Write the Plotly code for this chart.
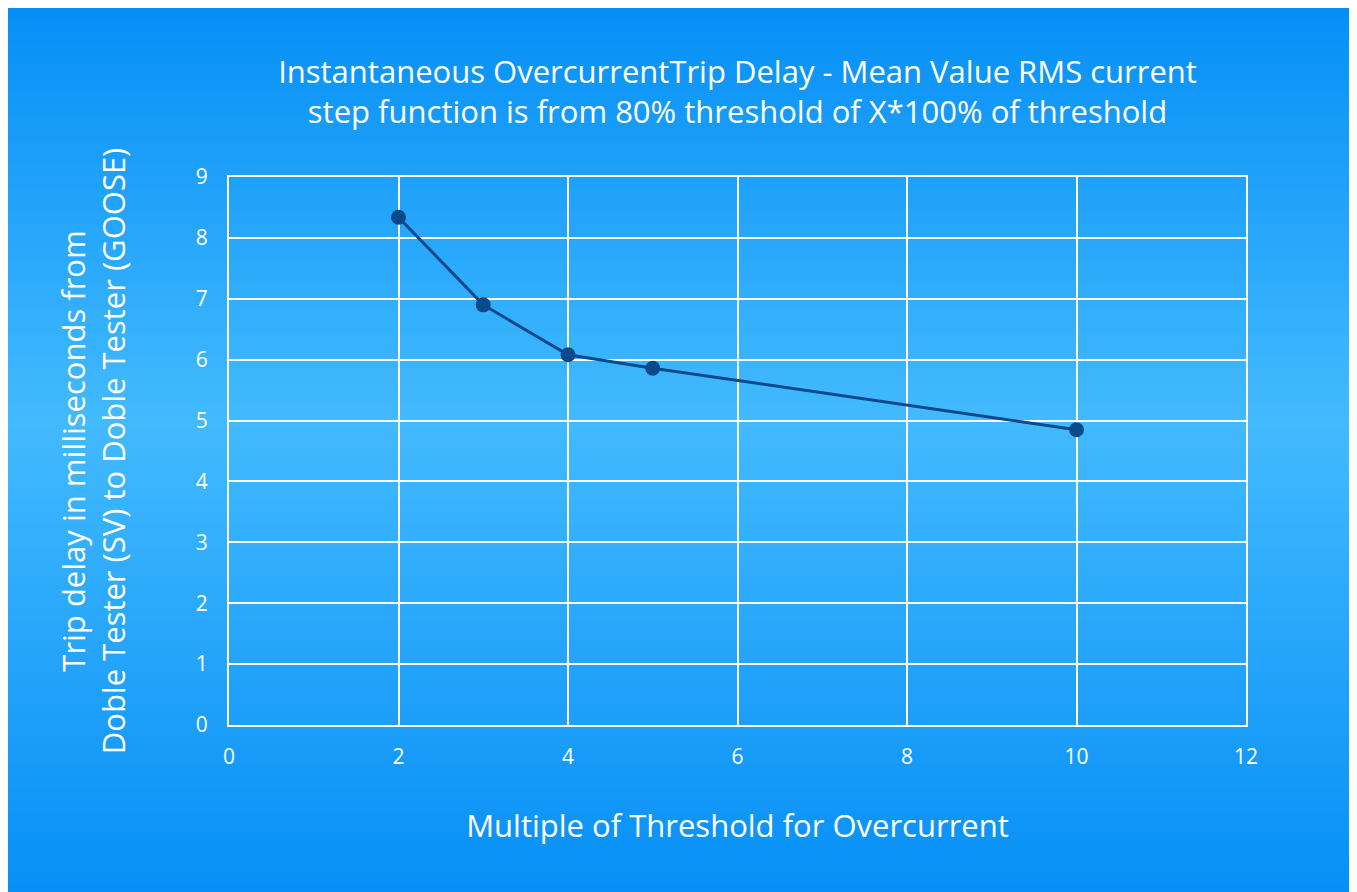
import plotly.graph_objects as go

multiples = [2, 3, 4, 5, 10]
trip_delay_ms = [8.34, 6.90, 6.08, 5.86, 4.85]

title_text = ("Instantaneous OvercurrentTrip Delay - Mean Value RMS current<br>"
              "step function is from 80% threshold of X*100% of threshold")
x_title = "Multiple of Threshold for Overcurrent"
y_title = "Trip delay in milliseconds from<br>Doble Tester (SV) to Doble Tester (GOOSE)"

# figure is drawn inside the page body margin (8px), so coordinates are page - 8
W, H = 1357, 884
L, R, T, B = 221, 119, 169, 167
pw, ph = W - L - R, H - T - B

def px_x(p):
    return (p - L) / pw

def px_y(p):
    return (H - B - p) / ph

def lerp(c1, c2, t):
    return tuple(round(a + (b - a) * t) for a, b in zip(c1, c2))

top_c = (5, 143, 246)
mid_c = (67, 186, 254)
bot_c = (6, 143, 246)
top_px, mid_px, bot_px = 0, 412, H

shapes = []
step = 6
y = top_px
while y < bot_px:
    yc = y + step / 2
    if yc <= mid_px:
        c = lerp(top_c, mid_c, (yc - top_px) / (mid_px - top_px))
    else:
        c = lerp(mid_c, bot_c, (yc - mid_px) / (bot_px - mid_px))
    shapes.append(dict(type="rect", xref="paper", yref="paper",
                       x0=px_x(0), x1=px_x(W), y0=px_y(min(y + step + 1, bot_px)), y1=px_y(y),
                       fillcolor="rgb(%d,%d,%d)" % c, line=dict(width=0), layer="below"))
    y += step

fig = go.Figure()
fig.add_trace(go.Scatter(
    x=multiples, y=trip_delay_ms, mode="lines+markers",
    line=dict(color="#0a4a8a", width=3),
    marker=dict(color="#0a4a8a", size=15),
    showlegend=False, cliponaxis=False,
))

font_family = "Open Sans"
fig.update_layout(
    width=W, height=H,
    margin=dict(l=L, r=R, t=T, b=B, autoexpand=False),
    paper_bgcolor="white", plot_bgcolor="rgba(0,0,0,0)",
    shapes=shapes,
    font=dict(family=font_family, color="white"),
    title=dict(text=title_text, x=(L + pw / 2) / W, xref="container", xanchor="center",
               y=1 - 74.5 / H, yref="container", yanchor="middle",
               font=dict(size=31, color="white", family=font_family)),
    xaxis=dict(range=[0, 12], dtick=2, tick0=0, showgrid=True, gridcolor="white", gridwidth=2,
               zeroline=False, showline=True, linecolor="white", linewidth=2, mirror=True,
               ticks="", tickfont=dict(size=21, color="white"), ticklabelstandoff=12,
               title=dict(text=x_title, font=dict(size=31, color="white"), standoff=46)),
    yaxis=dict(range=[0, 9], dtick=1, tick0=0, showgrid=True, gridcolor="white", gridwidth=2,
               zeroline=False, showline=True, linecolor="white", linewidth=2, mirror=True,
               ticks="", tickfont=dict(size=21, color="white"), ticklabelstandoff=15,
               title=dict(text=y_title, font=dict(size=31, color="white"), standoff=61)),
)

fig.write_html("out.html")
